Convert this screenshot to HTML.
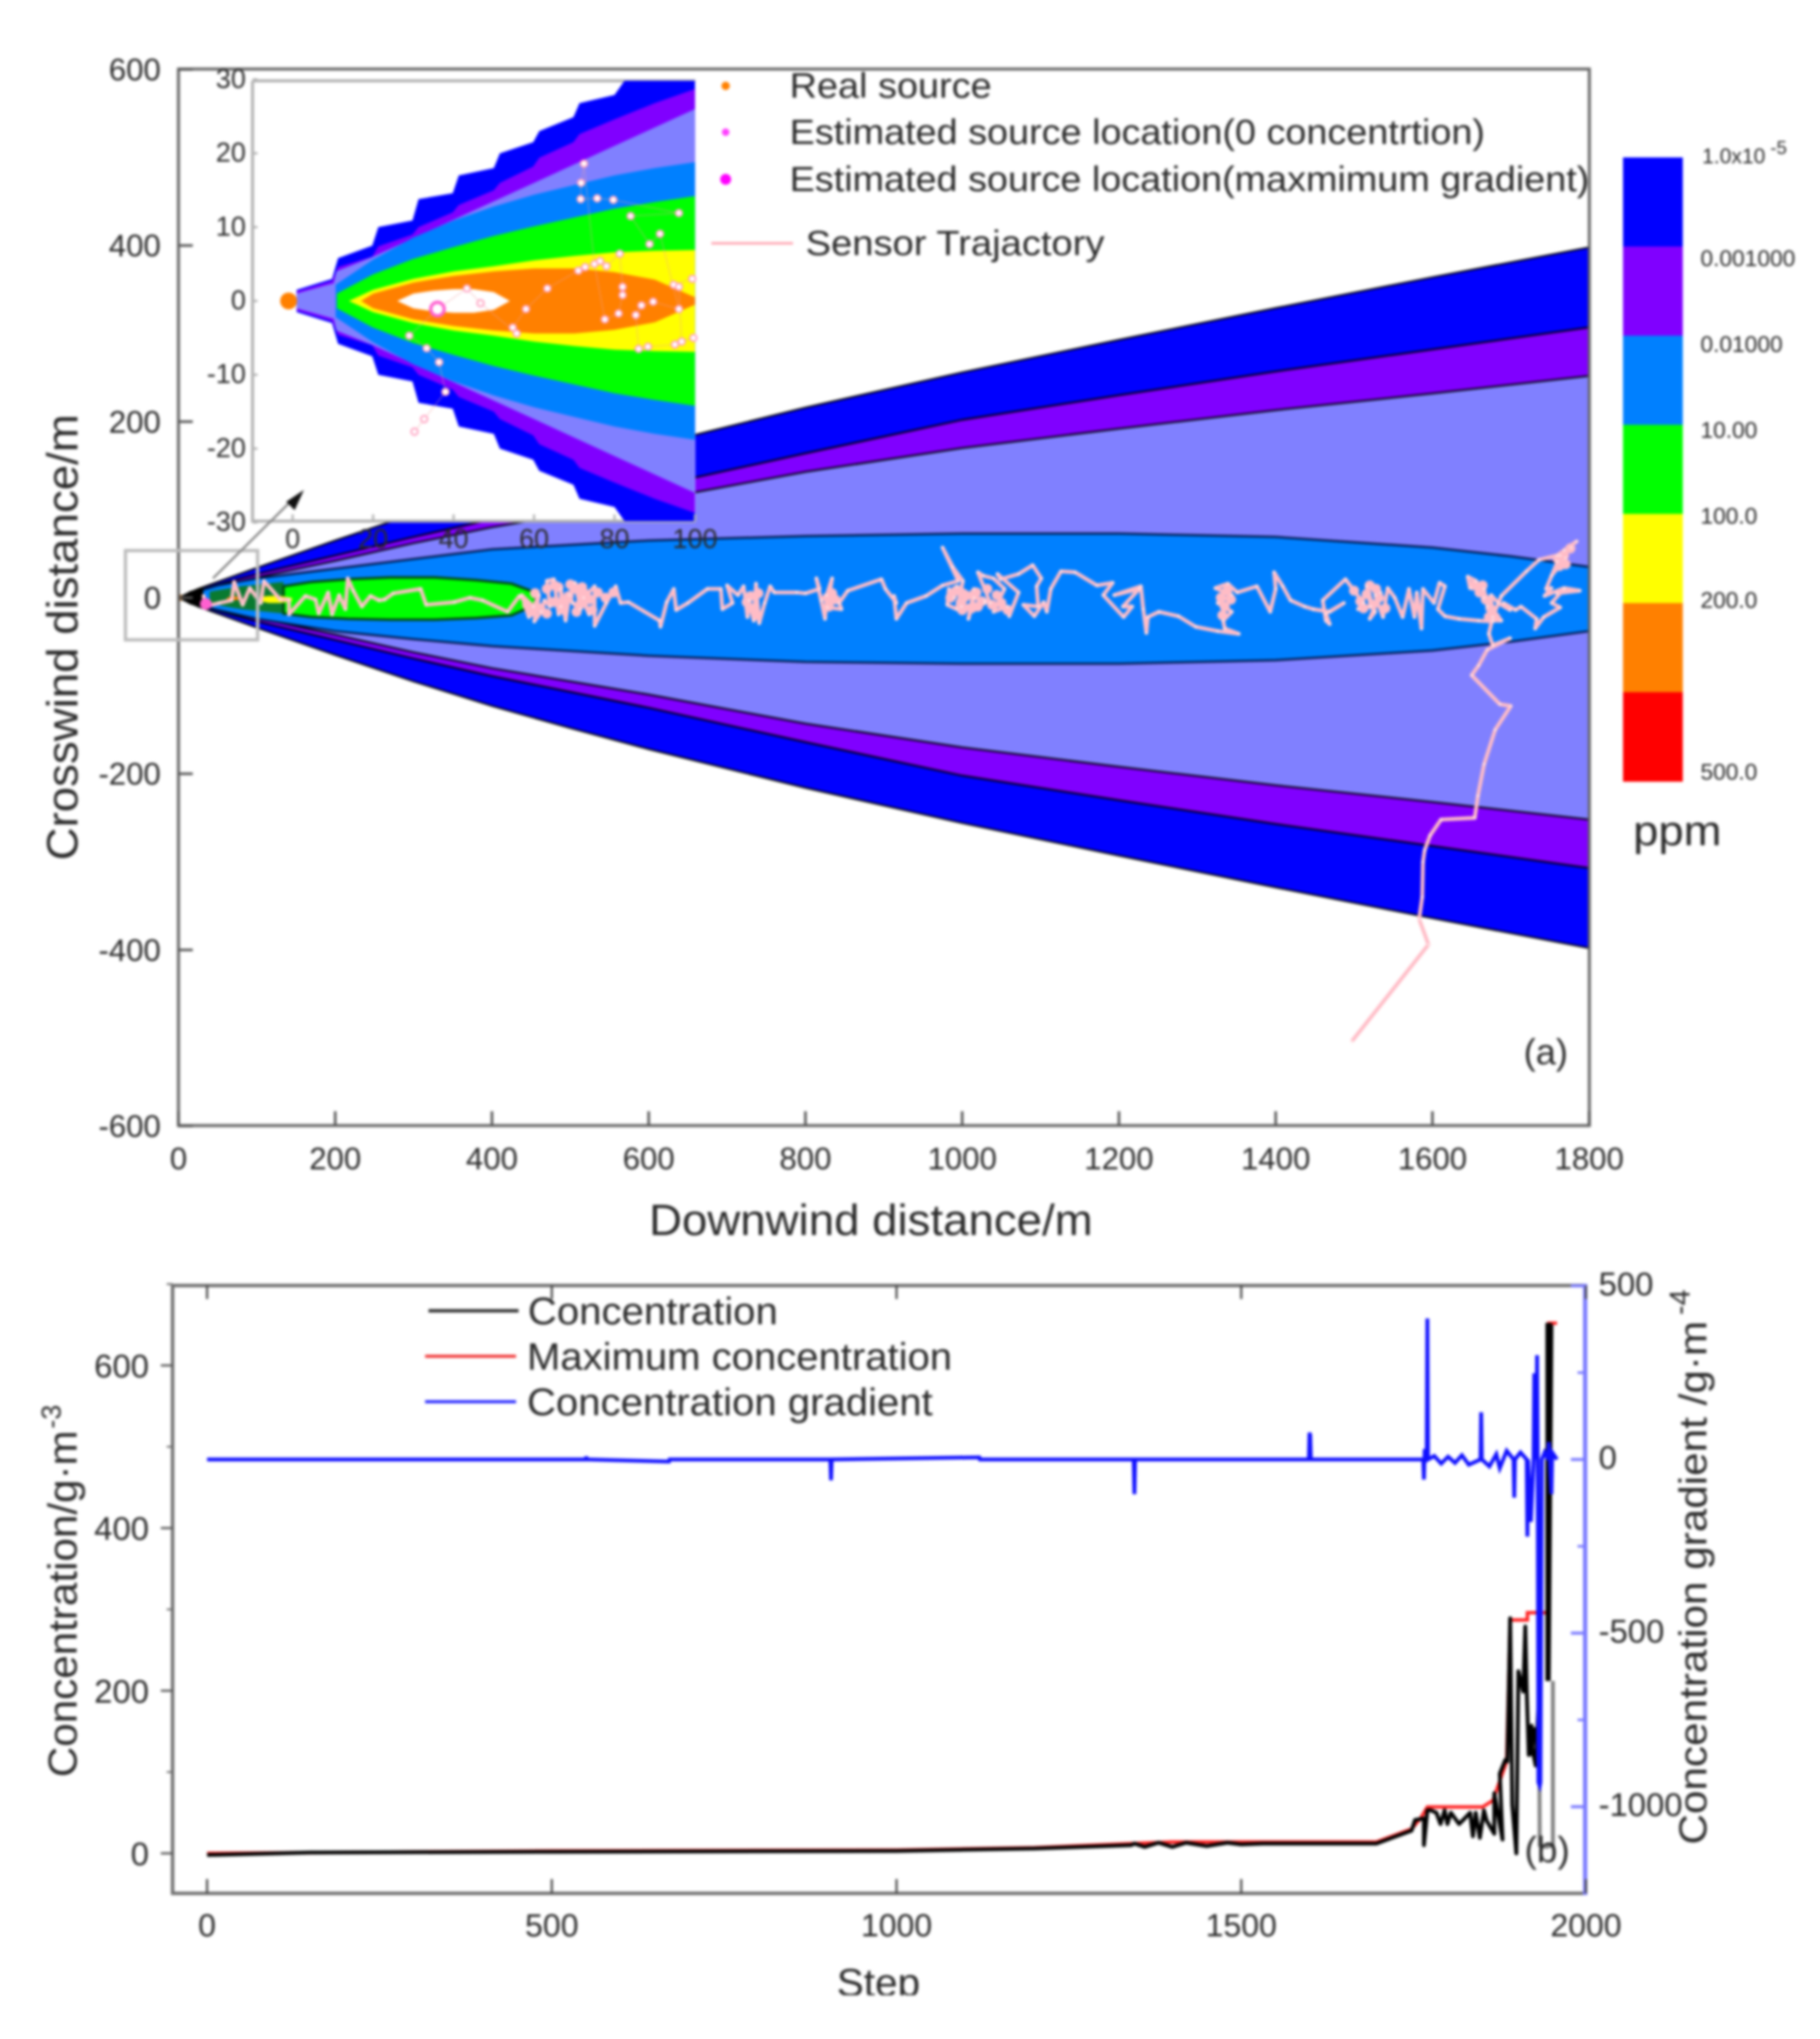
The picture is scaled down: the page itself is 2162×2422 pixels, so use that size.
<!DOCTYPE html>
<html>
<head>
<meta charset="utf-8">
<title>Plume tracking chart</title>
<style>
html,body{margin:0;padding:0;background:#fff;width:2162px;height:2422px;overflow:hidden}
svg{display:block;filter:blur(1.5px)}
text{font-family:"Liberation Sans",sans-serif;fill:#2a2a2a}
</style>
</head>
<body>
<svg id="fig" xmlns="http://www.w3.org/2000/svg" width="2162" height="2422" viewBox="0 0 2162 2422">
  <defs>
    <clipPath id="insetClip"><rect x="300" y="96" width="526" height="523"/></clipPath>
    <clipPath id="mainClip"><rect x="212" y="82" width="1676" height="1255"/></clipPath>
  </defs>
  <rect width="2162" height="2422" fill="#fff"/>

  <g id="plume" clip-path="url(#mainClip)"></g>
  <g id="traj"></g>
  <g id="axesA"></g>

  <rect x="149" y="654" width="157" height="106" fill="none" stroke="#bdbdbd" stroke-width="4"/>

  <g id="inset"></g>

  <line x1="253" y1="687" x2="350" y2="591" stroke="#808080" stroke-width="2.5"/>
  <polygon points="361,582 340,596 350,606" fill="#111"/>

  <text x="181" y="723" font-size="37" text-anchor="middle">0</text>
  <text transform="translate(92,1022) rotate(-90)" font-size="52" textLength="530" lengthAdjust="spacingAndGlyphs">Crosswind distance/m</text>
  <text x="771" y="1467" font-size="52" textLength="527" lengthAdjust="spacingAndGlyphs">Downwind distance/m</text>
  <text x="1810" y="1264" font-size="43">(a)</text>

  <g>
    <circle cx="862" cy="102" r="5" fill="#ff8000"/>
    <text x="938" y="116" font-size="42" textLength="240" lengthAdjust="spacingAndGlyphs">Real source</text>
    <circle cx="862" cy="157" r="4.5" fill="#ff40ff"/>
    <text x="938" y="171" font-size="42" textLength="826" lengthAdjust="spacingAndGlyphs">Estimated source location(0 concentrtion)</text>
    <circle cx="862" cy="213" r="6.5" fill="#ff00ff"/>
    <text x="938" y="227" font-size="42" textLength="950" lengthAdjust="spacingAndGlyphs">Estimated source location(maxmimum gradient)</text>
    <line x1="845" y1="289" x2="942" y2="289" stroke="#ffa8b4" stroke-width="3"/>
    <text x="957" y="303" font-size="42" textLength="355" lengthAdjust="spacingAndGlyphs">Sensor Trajactory</text>
  </g>

  <g id="cbar"></g>
  <text x="1940" y="1004" font-size="50" textLength="105" lengthAdjust="spacingAndGlyphs">ppm</text>

  <g id="axesB"></g>
  <g id="seriesB"></g>

  <g>
    <line x1="509" y1="1557" x2="616" y2="1557" stroke="#333" stroke-width="4"/>
    <text x="627" y="1573" font-size="45" textLength="297" lengthAdjust="spacingAndGlyphs">Concentration</text>
    <line x1="505" y1="1611" x2="613" y2="1611" stroke="#f03030" stroke-width="3.5"/>
    <text x="626" y="1627" font-size="45" textLength="505" lengthAdjust="spacingAndGlyphs">Maximum concentration</text>
    <line x1="505" y1="1665" x2="613" y2="1665" stroke="#2020ff" stroke-width="3.5"/>
    <text x="626" y="1681" font-size="45" textLength="482" lengthAdjust="spacingAndGlyphs">Concentration gradient</text>
  </g>

  <text transform="translate(91,2111) rotate(-90)" font-size="48" textLength="412" lengthAdjust="spacingAndGlyphs">Concentration/g·m</text>
  <text transform="translate(72,1697) rotate(-90)" font-size="32">-3</text>
  <text transform="translate(2027,2191) rotate(-90)" font-size="46" textLength="622" lengthAdjust="spacingAndGlyphs">Concentration gradient /g·m</text>
  <text transform="translate(2007,1562) rotate(-90)" font-size="34">-4</text>
  <text x="1811" y="2212" font-size="44">(b)</text>
  <text x="994" y="2371" font-size="46" textLength="99" lengthAdjust="spacingAndGlyphs">Step</text>
  <rect x="900" y="2370" width="300" height="30" fill="#fff"/>
</svg>

<script>
// ---------- Chart (a): axis ticks ----------
const xTicksA = [0,200,400,600,800,1000,1200,1400,1600,1800];
const yTicksA = [600,400,200,-200,-400,-600];
const yTickMarksA = [600,400,200,0,-200,-400,-600];

// ---------- Chart (a): contour half-widths ----------
const plumeX     = [0,25,50,100,200,300,400,500,600,800,1000,1200,1400,1600,1800];
const outerHalf  = [0,10,18,34,65,95,123,148,172,216,256,293,329,364,398];
const purpleHalf = [0,8,15,27,48,69,89,107,125,164,202,230,257,282,307];
const periHalf   = [0,6,13,23,42,62,80,95,110,143,170,192,213,232,252];
const azureX     = [20,50,100,200,300,400,600,800,1000,1200,1400,1600,1700,1800];
const azureUp    = [6,14,22,33,44,55,65,70,73,73,69,57,47,35];
const azureLow   = [6,14,24,38,47,55,66,73,75,75,71,60,50,38];
const darkGreenX    = [40,80,134];
const darkGreenHalf = [7,13,18];
const greenX     = [134,170,217,270,327,380,425,455];
const greenUp    = [13,18,21,23,23,20,16,6];
const greenLow   = [18,22,24,25,25,23,20,8];
const yellowX    = [105,115,130,145];
const yellowUp   = [1,2,2,0];
const yellowLow  = [4,6,6,4];
const orangeX    = [62,70,78];
const orangeUp   = [0,2,0];
const orangeLow  = [2,3,2];
const tipX       = [3,15,30];
const tipHalf    = [0,6,10];

// ---------- Chart (a): sensor trajectory ----------
const trajX = [1497,1595,1583,1587,1588,1590,1597,1611,1654,1658,1666,1680,1700,1686,1650,1659,1670,1699,1677,1672,1677,1688,1720,1736,1759,1784,1768,1777,1759,1770,1752,1763,1745,1752,1743,1768,1788,1759,1768,1752,1763,1742,1731,1733,1713,1706,1691,1699,1684,1675,1677,1688,1666,1656,1645,1648,1666,1670,1677,1659,1634,1616,1607,1616,1609,1602,1588,1586,1580,1577,1570,1562,1552,1543,1537,1527,1534,1520,1527,1516,1521,1505,1512,1489,1460,1464,1469,1464,1487,1469,1448,1437,1419,1409,1398,1400,1393,1376,1351,1339,1323,1344,1326,1344,1333,1335,1353,1326,1298,1276,1251,1237,1235,1231,1228,1194,1226,1205,1217,1206,1180,1192,1172,1144,1126,1113,1108,1104,1092,1078,1097,1095,1101,1090,1072,1049,1045,1072,1060,1058,1040,1054,1040,1027,1020,1036,1029,1015,1008,1015,999,1029,993,990,983,981,993,1001,988,975,995,975,954,929,916,913,916,902,897,854,843,846,828,834,827,825,820,814,818,800,789,760,755,748,741,737,734,728,726,721,714,700,707,694,692,675,650,635,632,623,615,614,574,564,558,546,531,531,517,524,506,513,503,499,494,488,488,485,479,470,474,467,463,454,460,447,438,453,435,420,388,372,352,316,309,274,263,256,245,234,223,216,213,205,196,191,179,175,162,141,141,130,109,105,91,82,71,68,52,34,32,35];
const trajY = [-504,-394,-365,-340,-300,-287,-270,-252,-250,-225,-189,-150,-123,-121,-88,-77,-59,-46,-54,-41,-22,2,30,43,48,64,54,57,41,45,25,48,10,11,2,11,8,5,10,-6,-11,-22,-35,-24,-10,-14,-6,-14,-6,3,-26,-26,0,19,24,11,10,-10,-27,-26,-24,-21,-13,13,17,-6,10,-35,6,-22,10,-22,0,11,-22,3,6,-24,-16,13,-10,-13,-6,21,-3,-26,-30,-18,-6,-16,-13,-10,-3,13,29,10,-16,13,6,16,11,3,-6,-16,-26,-35,-41,-38,-33,-21,-16,-22,-40,-13,13,3,10,-10,-10,-22,3,17,14,29,30,10,-16,-5,-21,-8,-10,13,22,37,27,21,27,6,-21,-10,-16,10,22,25,29,-6,-3,0,-24,10,-10,-6,13,0,10,-8,-13,19,35,57,19,14,2,-6,-24,2,-6,10,21,8,-6,-13,-11,22,3,-24,-3,22,10,5,6,6,13,-6,-29,16,-26,-3,-22,13,3,14,-6,-13,10,10,-6,-14,10,-5,-33,-26,-5,-6,13,-6,-32,13,0,-19,17,-13,-6,3,-26,10,-10,-19,21,19,-10,-3,-16,-27,3,-22,3,-10,2,-16,-3,0,-5,-8,10,5,-2,-3,2,-10,8,22,-13,3,-19,6,-18,-2,2,-19,-2,-2,19,-6,11,-8,18,-3,-6,-10,2,-8];
const clusterX = [445,455,462,470,478,485,492,498,505,512,520,528,535,470,490,508,450,480,500,525,545,555,515,725,730,735,740,738,828,834,830,838,985,992,998,1005,1012,1018,1025,1032,1038,1044,1050,1058,1000,1020,1330,1338,1335,1343,1332,1500,1508,1516,1524,1532,1540,1512,1528,1520,1652,1660,1668,1674,1680,1664,1672,1760,1768,1776,1762,1770];
const clusterY = [-8,5,-12,10,-5,12,-14,2,10,-8,4,-14,6,-18,-4,-16,-16,14,15,-2,0,6,12,-5,2,-12,5,-20,0,5,-10,-2,0,8,-6,2,-12,6,-4,10,-8,3,-6,-14,-14,-10,0,8,-10,-2,-20,8,-4,4,-8,0,-12,-12,10,14,14,6,-2,-12,-22,14,-22,44,48,56,36,38];

// ---------- Chart (a) inset: stepped contour half-widths ----------
const insetOuterX = [1,9.8,11.3,19.8,21.3,29.8,31.3,39.8,41.3,50,51.5,59.8,61.3,69.8,71.3,80,82.7,100];
const insetOuterH = [1.5,3,5.8,7.5,10,10.9,13.8,14.6,17,18,20,21.5,23,24.9,26.8,27.9,30,30];
const insetPurpleX = [1,9.8,11.3,19.8,21.3,29.8,31.3,39.8,41.3,50,51.5,59.8,61.3,69.8,71.3,80,90,100];
const insetPurpleH = [1.3,2.7,4.6,6,7.4,9,10,12,13,15,16,18.2,19.4,21.5,22.6,24.6,26.8,28.7];
const insetPeriX = [1,10.2,10.9,20,30,40,50,60,70,80,90,100];
const insetPeriH = [1,2.4,4,6,8.5,11,13.5,16,18.5,21,23.5,26];
const insetAzureX = [10.7,20,30,40,50,60,70,80,90,100];
const insetAzureH = [2.2,5.6,8.6,10.9,12.8,14.4,15.7,17,18,18.8];
const insetGreenX = [11,20,30,40,50,60,70,80,90,100];
const insetGreenH = [1,3.6,5.7,7.3,8.8,10.1,11.3,12.5,13.4,14.2];
const insetYellowX = [14,20,30,40,50,60,70,80,90,100];
const insetYellowH = [0,1.5,3,4,4.7,5.5,6.1,6.6,6.8,6.9];
const insetOrangeX = [17,20,30,40,50,60,70,80,90,100];
const insetOrangeH = [0,1,2.5,3.4,4,4.4,4.4,3.9,2.9,0.5];
const insetWhiteX = [26,30,35,40,45,50,54];
const insetWhiteH = [0,1,1.4,1.6,1.6,1.2,0];
const insetPathX = [99.3,94.7,96,96.7,99.6,95,88.3,86,85.3,86.7,89.6,96,91.3,88.7,84,96,79.7,75.7,71.6,71.7,72.4,75,77.6,81,82,82,81.3,78,76.4,72.7,71,63.3,58,54.7,55.7,46.7,43.3,36,29,33.3,36.4,38,32.7,30.3];
const insetPathY = [3,2.2,1.9,-5.5,-5,-5.9,-6.2,-6.5,-1.9,-0.6,-0.1,-1.1,9.1,7.7,11.5,11.9,13.7,13.9,13.8,16,18.6,5,-2.5,-1.7,0.8,1.9,6.4,4.7,5.4,4.6,4.1,1.7,-1.1,-3.6,-4.4,-0.3,1.7,-1.1,-4.7,-6.4,-8.3,-12.3,-16,-17.7];
const insetXTicks = [0,20,40,60,80,100];
const insetYTicks = [30,20,10,0,-10,-20,-30];

// ---------- Colorbar ----------
const cbarColors = ['#0000ff','#8000ff','#0080ff','#00ff00','#ffff00','#ff8000','#ff0000'];
const cbarLabels = ['0.001000','0.01000','10.00','100.0','200.0','500.0'];

// ---------- Chart (b) ----------
const stepTicks = [0,500,1000,1500,2000];
const concTicks = [600,400,200,0];
const concMinor = [700,500,300,100];
const gradTicks = [500,0,-500,-1000];
const gradMinor = [250,-250,-750];
const concSteps = [0,100,150,500,1000,1200,1340,1345,1360,1380,1400,1420,1450,1480,1500,1531,1600,1696,1747,1752,1765,1765,1770,1775,1783,1789,1795,1799,1804,1816,1824,1832,1836,1840,1846,1852,1856,1867,1867,1872,1879,1875,1883,1886,1890,1893,1899,1902,1909,1912,1914,1917,1921,1921,1925,1922,1927,1932];
const concValues = [-2,0,1,2,3,6,10,12,8,13,8,13,9,13,11,12,12,12,28,41,43,10,53,53,50,36,53,36,50,36,43,50,21,50,19,53,40,24,74,50,17,98,115,113,289,60,0,224,199,279,200,121,157,122,153,130,108,200];
const tailSteps  = [1932,1933,1942,1952,1952];
const tailValues = [200,10,8,10,212];
const peakSteps  = [1944,1944,1948,1946,1950,1946];
const peakValues = [212,650,650,212,650,212];
const maxSteps  = [0,500,1000,1200,1340,1400,1696,1747,1760,1770,1850,1865,1885,1890,1915,1915,1945,1946,1958];
const maxValues = [0,3,4,7,12,14,14,30,43,57,57,65,113,287,287,296,296,652,652];
const gradSteps  = [0,549,550,551,670,671,900,904,905,906,1120,1121,1340,1344,1345,1346,1598,1599,1600,1601,1764,1765,1766,1769,1770,1771,1780,1790,1800,1810,1820,1830,1847,1848,1849,1860,1870,1875,1885,1895,1896,1897,1905,1914,1915,1916,1920,1924,1925,1928,1929,1930,1931,1933,1934,1935,1936,1940,1945,1946,1950,1951,1958];
const gradValues = [0,0,8,0,-6,0,0,0,-60,0,6,0,0,0,-100,0,0,77,70,0,0,-58,30,0,406,0,10,-12,8,-10,12,-15,0,136,0,-20,15,-25,25,0,-110,0,20,0,-222,0,-180,0,248,0,300,0,-930,-940,-930,-400,0,20,0,50,-100,20,0];

// ---------- Scales ----------
const xA = v => 212 + v * 0.931;
const yA = v => 710 - v * 1.0458;
const xI = v => 347.6 + v * 4.78;
const yI = v => 357.5 - v * 8.77;
const xB = v => 246 + v * 0.819;
const yB = v => 2201.5 - v * 0.966;
const yG = v => 1733.6 - v * 0.4125;

const SVGNS = 'http://www.w3.org/2000/svg';
function mk(tag, attrs, parent, txt){
  const e = document.createElementNS(SVGNS, tag);
  for (const k in attrs) e.setAttribute(k, attrs[k]);
  if (txt !== undefined) e.textContent = txt;
  parent.appendChild(e);
  return e;
}
function bandPoints(xs, up, low, sx, sy){
  const a = xs.map((x,i) => sx(x).toFixed(1)+','+sy(up[i]).toFixed(1));
  const b = xs.map((x,i) => sx(x).toFixed(1)+','+sy(-low[i]).toFixed(1)).reverse();
  return a.concat(b).join(' ');
}
function linePoints(xs, ys, sx, sy){
  return xs.map((x,i) => sx(x).toFixed(1)+','+sy(ys[i]).toFixed(1)).join(' ');
}

// ---------- Draw main plume ----------
const plume = document.getElementById('plume');
const mainBands = [
  ['plume-band-blue', plumeX, outerHalf, outerHalf, '#0000ff', '#000', 2],
  ['plume-band-purple', plumeX, purpleHalf, purpleHalf, '#8000ff', '#000', 2],
  ['plume-band-periwinkle', plumeX, periHalf, periHalf, '#8080ff', '#000', 2],
  ['plume-band-azure', azureX, azureUp, azureLow, '#0080ff', '#00184a', 2.5],
  ['plume-band-dark-green', darkGreenX, darkGreenHalf, darkGreenHalf, '#0a7a30', 'none', 0],
  ['plume-band-green', greenX, greenUp, greenLow, '#00ff00', '#004a10', 3],
  ['plume-band-yellow', yellowX, yellowUp, yellowLow, '#ffff00', 'none', 0],
  ['plume-band-orange', orangeX, orangeUp, orangeLow, '#ff8000', 'none', 0],
  ['plume-tip', tipX, tipHalf, tipHalf, '#000', '#000', 3]
];
mainBands.forEach(b => {
  const el = mk('polygon', {points: bandPoints(b[1], b[2], b[3], xA, yA), fill: b[4], stroke: b[5], 'stroke-width': b[6]}, plume);
  
  
});
const mainSource = mk('circle', {cx: xA(1), cy: yA(0), r: 4, fill: '#a05000'}, plume);



// ---------- Draw trajectory ----------
const trajG = document.getElementById('traj');
const trajLine = mk('polyline', {points: linePoints(trajX, trajY, xA, yA), fill: 'none', stroke: '#ffbcc6', 'stroke-width': 4.5, 'stroke-linejoin': 'round'}, trajG);


clusterX.forEach((x,i) => {
  const blob = mk('circle', {cx: xA(x).toFixed(1), cy: yA(clusterY[i]).toFixed(1), r: 6, fill: '#ffbcc6'}, trajG);
  
  
});
trajX.forEach((x,i) => {
  const dot = mk('circle', {cx: xA(x).toFixed(1), cy: yA(trajY[i]).toFixed(1), r: 1.5, fill: '#ffe8ea'}, trajG);
  
  
});
const nearSource = mk('circle', {cx: xA(35), cy: yA(-7), r: 7, fill: '#ff60d0'}, trajG);



// ---------- Chart (a) axes ----------
const axA = document.getElementById('axesA');
const frameA = mk('rect', {x: 212, y: 82, width: 1676, height: 1255, fill: 'none', stroke: '#666', 'stroke-width': 3.5}, axA);


xTicksA.forEach(v => {
  const t = mk('line', {x1: xA(v), x2: xA(v), y1: 1337, y2: 1320, stroke: '#555', 'stroke-width': 3}, axA);
  
  
  const l = mk('text', {x: xA(v), y: 1389, 'font-size': 37, 'text-anchor': 'middle'}, axA, String(v));
  
  
});
yTickMarksA.forEach(v => {
  const t = mk('line', {x1: 212, x2: 229, y1: yA(v), y2: yA(v), stroke: '#555', 'stroke-width': 3}, axA);
  
  
});
yTicksA.forEach(v => {
  const l = mk('text', {x: 191, y: yA(v) + 13, 'font-size': 37, 'text-anchor': 'end'}, axA, String(v));
  
  
});

// ---------- Inset ----------
const inset = document.getElementById('inset');
const insetBg = mk('rect', {x: 300, y: 96, width: 526, height: 523, fill: '#fff'}, inset);


const insetAxes = mk('path', {d: 'M300,96 H826 M300,96 V619 H826', fill: 'none', stroke: '#b0b0b0', 'stroke-width': 3.5}, inset);


const insetClipped = mk('g', {'clip-path': 'url(#insetClip)'}, inset);


const insetBands = [
  ['inset-band-blue', insetOuterX, insetOuterH, '#0000ff'],
  ['inset-band-purple', insetPurpleX, insetPurpleH, '#8000ff'],
  ['inset-band-periwinkle', insetPeriX, insetPeriH, '#8080ff'],
  ['inset-band-azure', insetAzureX, insetAzureH, '#0080ff'],
  ['inset-band-green', insetGreenX, insetGreenH, '#00ff00'],
  ['inset-band-yellow', insetYellowX, insetYellowH, '#ffff00'],
  ['inset-band-orange', insetOrangeX, insetOrangeH, '#ff8000'],
  ['inset-band-white', insetWhiteX, insetWhiteH, '#ffffff']
];
insetBands.forEach(b => {
  const el = mk('polygon', {points: bandPoints(b[1], b[2], b[2], xI, yI), fill: b[3]}, insetClipped);
  
  
});
insetXTicks.forEach(v => {
  const l = mk('text', {x: xI(v), y: 651, 'font-size': 32, 'text-anchor': 'middle'}, inset, String(v));
  
  
  const t = mk('line', {x1: xI(v), x2: xI(v), y1: 619, y2: 611, stroke: '#b0b0b0', 'stroke-width': 2.5}, inset);
  
  
});
insetYTicks.forEach(v => {
  const l = mk('text', {x: 292, y: yI(v) + 10, 'font-size': 32, 'text-anchor': 'end'}, inset, String(v));
  
  
  const t = mk('line', {x1: 300, x2: 306, y1: yI(v), y2: yI(v), stroke: '#b0b0b0', 'stroke-width': 2.5}, inset);
  
  
});
const insetLine = mk('polyline', {points: linePoints(insetPathX, insetPathY, xI, yI), fill: 'none', stroke: '#f0a0a0', 'stroke-width': 1, opacity: 0.55}, inset);


insetPathX.forEach((x,i) => {
  const c = mk('circle', {cx: xI(x).toFixed(1), cy: yI(insetPathY[i]).toFixed(1), r: 4, fill: '#fff', stroke: '#ffa0c0', 'stroke-width': 2}, inset);
  
  
});
const insetEstimate = mk('circle', {cx: xI(36), cy: yI(-1.1), r: 8, fill: '#fff', stroke: '#ff60d0', 'stroke-width': 4}, inset);


const insetSource = mk('circle', {cx: xI(-1), cy: yI(0), r: 10, fill: '#ff8000'}, inset);



// ---------- Colorbar ----------
const cbar = document.getElementById('cbar');
cbarColors.forEach((c,i) => {
  const h = (928 - 187) / cbarColors.length;
  const r = mk('rect', {x: 1928, y: 187 + i * h, width: 71, height: h + 0.5, fill: c}, cbar);
  
  
});
const cbarTop = mk('text', {x: 2022, y: 194, 'font-size': 25}, cbar, '1.0x10');


const cbarSup = mk('text', {x: 2103, y: 183, 'font-size': 22}, cbar, '-5');


const cbarLabelY = [316,418,520,622,722,926];
cbarLabels.forEach((t,i) => {
  const l = mk('text', {x: 2020, y: cbarLabelY[i], 'font-size': 27}, cbar, t);
  
  
});

// ---------- Chart (b) axes ----------
const axB = document.getElementById('axesB');
const frameB = mk('path', {d: 'M1883,1527 H205 V2249 H1883', fill: 'none', stroke: '#6e6e6e', 'stroke-width': 4}, axB);


const rightAxis = mk('line', {x1: 1883, x2: 1883, y1: 1525, y2: 2251, stroke: '#7a7aff', 'stroke-width': 5}, axB);


stepTicks.forEach(v => {
  const b = mk('line', {x1: xB(v), x2: xB(v), y1: 2249, y2: 2232, stroke: '#444', 'stroke-width': 2.5}, axB);
  
  
  const t = mk('line', {x1: xB(v), x2: xB(v), y1: 1527, y2: 1543, stroke: '#444', 'stroke-width': 2.5}, axB);
  
  
  const l = mk('text', {x: xB(v), y: 2300, 'font-size': 38, 'text-anchor': 'middle'}, axB, String(v));
  
  
});
concTicks.forEach(v => {
  const t = mk('line', {x1: 191, x2: 205, y1: yB(v), y2: yB(v), stroke: '#555', 'stroke-width': 2.5}, axB);
  
  
  const l = mk('text', {x: 177, y: yB(v) + 14, 'font-size': 39, 'text-anchor': 'end'}, axB, String(v));
  
  
});
concMinor.forEach(v => {
  const t = mk('line', {x1: 198, x2: 205, y1: yB(v), y2: yB(v), stroke: '#666', 'stroke-width': 2}, axB);
  
  
});
gradTicks.forEach(v => {
  const t = mk('line', {x1: 1883, x2: 1866, y1: yG(v), y2: yG(v), stroke: '#7a7aff', 'stroke-width': 3.5}, axB);
  
  
  const l = mk('text', {x: 1899, y: yG(v) + 11, 'font-size': 39}, axB, String(v));
  
  
});
gradMinor.forEach(v => {
  const t = mk('line', {x1: 1883, x2: 1874, y1: yG(v), y2: yG(v), stroke: '#7a7aff', 'stroke-width': 3}, axB);
  
  
});

// ---------- Chart (b) series ----------
const serB = document.getElementById('seriesB');
const maxLine = mk('polyline', {points: linePoints(maxSteps, maxValues, xB, yB), fill: 'none', stroke: '#ff2020', 'stroke-width': 4}, serB);


const concLine = mk('polyline', {points: linePoints(concSteps, concValues, xB, yB), fill: 'none', stroke: '#000', 'stroke-width': 4.5, 'stroke-linejoin': 'round'}, serB);


const tailLine = mk('polyline', {points: linePoints(tailSteps, tailValues, xB, yB), fill: 'none', stroke: '#808080', 'stroke-width': 4.5}, serB);


const peakLine = mk('polyline', {points: linePoints(peakSteps, peakValues, xB, yB), fill: 'none', stroke: '#000', 'stroke-width': 4.5}, serB);


const gradLine = mk('polyline', {points: linePoints(gradSteps, gradValues, xB, yG), fill: 'none', stroke: '#1010ff', 'stroke-width': 4.5}, serB);


</script>
</body>
</html>
